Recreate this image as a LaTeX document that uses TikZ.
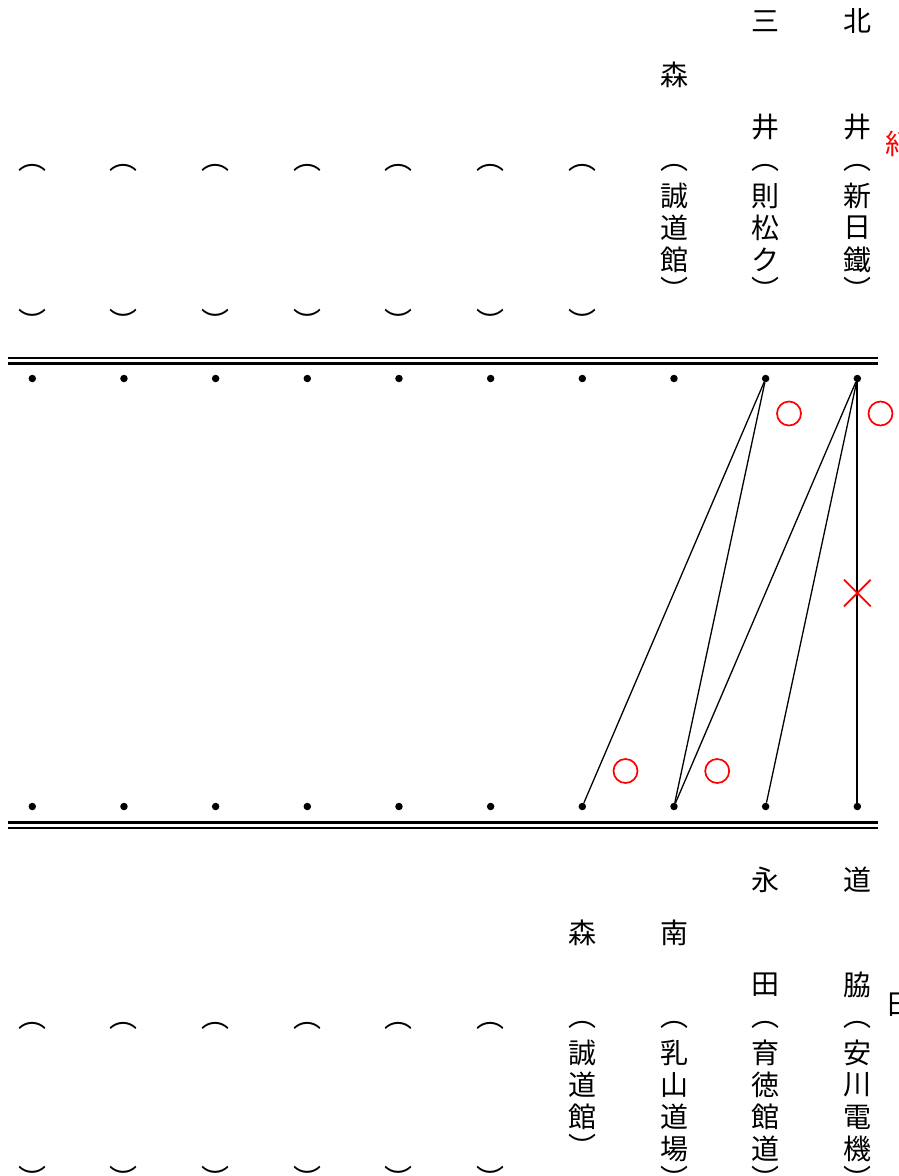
\documentclass[tikz,border=0pt]{standalone}
\definecolor{markred}{RGB}{255,0,0}
\usepackage{fontspec}
\setmainfont{Noto Sans CJK JP}
\usepackage{tikz}
\usetikzlibrary{shapes.misc,positioning}

\begin{document}
\begin{tikzpicture}[x=1pt, y=-1pt,
		ch/.style={inner sep=0pt, font=\fontsize{28}{28}\selectfont},
		shut/.style={ch, yshift=-12pt},
		dot/.style={circle, fill=black, inner sep=0pt, minimum size=7.5pt},
		bar/.style={line width=2.5pt},
		link/.style={line width=1.3pt},
		win/.style={draw=markred, line width=1.7pt, circle, inner sep=0pt, minimum size=24pt},
		lose/.style={draw=markred, line width=1.7pt, cross out, inner sep=0pt, minimum size=25pt}
	]
		\useasboundingbox (0,0) rectangle (899,1176);

		\draw[bar] (8,358.2) -- (878,358.2);
		\draw[bar] (8,363.7) -- (878,363.7);
		\draw[bar] (8,822.3) -- (878,822.3);
		\draw[bar] (8,827.8) -- (878,827.8);

		\foreach \i in {1,...,10} {
			\node[dot] (t\i) at ({32.3+(\i-1)*91.67},378.5) {};
			\node[dot] (b\i) at ({32.3+(\i-1)*91.67},806.5) {};
		}

		\foreach \i in {1,...,7} {
			\node[ch] (tl\i) at ({32.3+(\i-1)*91.67},168) {︵};
			\node[shut] (tr\i) at ({32.3+(\i-1)*91.67},309) {︶};
		}
		\foreach \i in {1,...,6} {
			\node[ch] (bl\i) at ({32.3+(\i-1)*91.67},1026) {︵};
			\node[shut] (br\i) at ({32.3+(\i-1)*91.67},1166) {︶};
		}

		\node[ch] (t8a) at (674,75) {森};
		\node[ch] (tl8) at (674,168) {︵};
		\foreach \c [count=\k] in {誠,道,館} \node[ch] (t8n\k) at (674,{164+32*\k}) {\c};
		\node[shut] (tr8) at (674,277) {︶};

		\node[ch] (t9a) at (765.7,21) {三};
		\node[ch] (t9b) at (765.7,127) {井};
		\node[ch] (tl9) at (765.7,168) {︵};
		\foreach \c [count=\k] in {則,松,ク} \node[ch] (t9n\k) at (765.7,{164+32*\k}) {\c};
		\node[shut] (tr9) at (765.7,277) {︶};

		\node[ch] (t10a) at (857.3,21) {北};
		\node[ch] (t10b) at (857.3,127) {井};
		\node[ch] (tl10) at (857.3,168) {︵};
		\foreach \c [count=\k] in {新,日,鐵} \node[ch] (t10n\k) at (857.3,{164+32*\k}) {\c};
		\node[shut] (tr10) at (857.3,277) {︶};

		\node[ch, text=markred] (tx) at (899,143.5) {紀};

		\node[ch] (b7a) at (582.3,933) {森};
		\node[ch] (bl7) at (582.3,1025) {︵};
		\foreach \c [count=\k] in {誠,道,館} \node[ch] (b7n\k) at (582.3,{1021+32*\k}) {\c};
		\node[shut] (br7) at (582.3,1134) {︶};

		\node[ch] (b8a) at (674,933) {南};
		\node[ch] (bl8) at (674,1025) {︵};
		\foreach \c [count=\k] in {乳,山,道,場} \node[ch] (b8n\k) at (674,{1021+32*\k}) {\c};
		\node[shut] (br8) at (674,1166) {︶};

		\node[ch] (b9a) at (765.7,880) {永};
		\node[ch] (b9b) at (765.7,985) {田};
		\node[ch] (bl9) at (765.7,1025) {︵};
		\foreach \c [count=\k] in {育,徳,館,道} \node[ch] (b9n\k) at (765.7,{1021+32*\k}) {\c};
		\node[shut] (br9) at (765.7,1166) {︶};

		\node[ch] (b10a) at (857.3,880) {道};
		\node[ch] (b10b) at (857.3,985) {脇};
		\node[ch] (bl10) at (857.3,1025) {︵};
		\foreach \c [count=\k] in {安,川,電,機} \node[ch] (b10n\k) at (857.3,{1021+32*\k}) {\c};
		\node[shut] (br10) at (857.3,1166) {︶};

		\node[ch] (bx) at (899,1005) {日};

		\draw[link] (t9) -- (b7);
		\draw[link] (t9) -- (b8);
		\draw[link] (t10) -- (b8);
		\draw[link] (t10) -- (b9);
		\draw[bar, line width=2pt] (t10) -- (b10);

		\node[win] (w1) at (789,413.5) {};
		\node[win] (w2) at (880.5,413.5) {};
		\node[win] (w3) at (625.5,771) {};
		\node[win] (w4) at (717.2,771) {};
		\node[lose] (l1) at (857.3,593) {};
	\end{tikzpicture}
\end{document}
